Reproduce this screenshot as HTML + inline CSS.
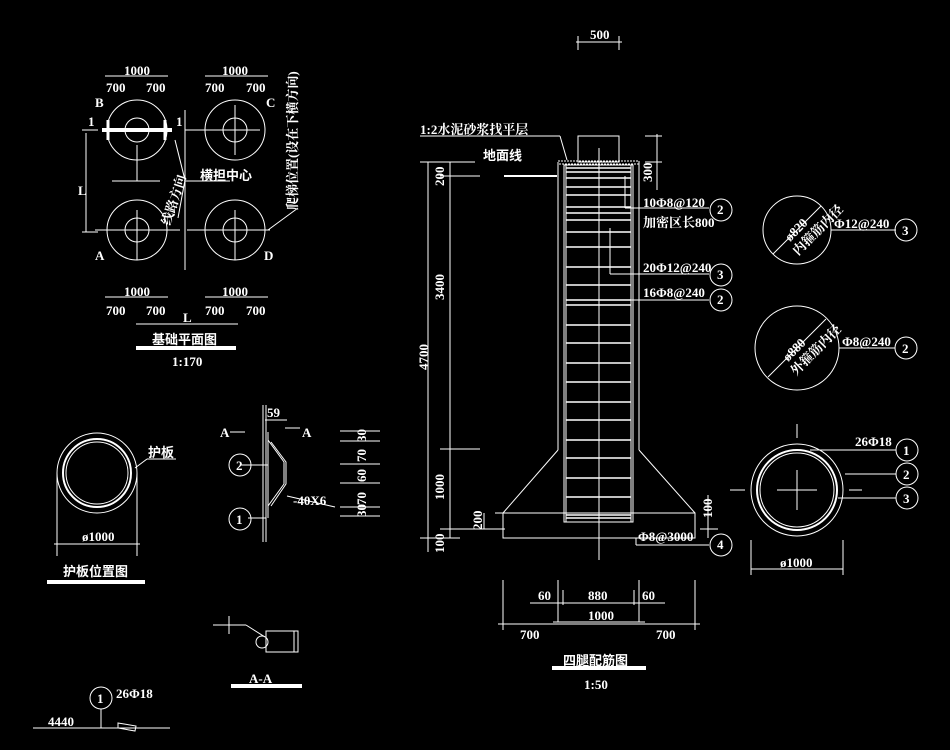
<!DOCTYPE html>
<html><head><meta charset="utf-8"><style>
html,body{margin:0;padding:0;background:#000;}
svg{display:block}
text{fill:#fff;font-family:"Liberation Serif","Noto Serif CJK SC","Noto Sans CJK SC",serif;font-size:13px;font-weight:bold}
.c{font-family:"Liberation Sans","Noto Sans CJK SC",sans-serif;font-weight:bold}
</style></head><body>
<svg width="950" height="750" viewBox="0 0 950 750" xmlns="http://www.w3.org/2000/svg">
<rect width="950" height="750" fill="#000"/>
<g stroke="#fff" fill="none" stroke-width="1">
<circle cx="137" cy="130" r="30"/><circle cx="137" cy="130" r="12"/>
<circle cx="235" cy="130" r="30"/><circle cx="235" cy="130" r="12"/>
<circle cx="137" cy="230" r="30"/><circle cx="137" cy="230" r="12"/>
<circle cx="235" cy="230" r="30"/><circle cx="235" cy="230" r="12"/>
<line x1="137" y1="145" x2="137" y2="181"/><line x1="112" y1="181" x2="160" y2="181"/>
<line x1="95" y1="230" x2="180" y2="230"/><line x1="137" y1="210" x2="137" y2="260"/>
<line x1="187" y1="230" x2="270" y2="230"/><line x1="235" y1="210" x2="235" y2="260"/>
<line x1="185" y1="130" x2="260" y2="130"/><line x1="235" y1="105" x2="235" y2="155"/>
<line x1="185" y1="181" x2="230" y2="181"/><line x1="185" y1="110" x2="185" y2="270"/>
<line x1="102" y1="130" x2="172" y2="130" stroke-width="4"/>
<line x1="108" y1="120" x2="108" y2="140" stroke-width="3"/><line x1="165" y1="120" x2="165" y2="140" stroke-width="3"/>
<line x1="86" y1="133" x2="86" y2="232"/><line x1="82" y1="130" x2="98" y2="130"/><line x1="82" y1="232" x2="98" y2="232"/>
<line x1="175" y1="140" x2="185" y2="180"/><line x1="185" y1="180" x2="178" y2="218"/>
<line x1="268" y1="230" x2="298" y2="208"/>
<line x1="105" y1="76" x2="168" y2="76"/><line x1="205" y1="76" x2="268" y2="76"/>
<line x1="105" y1="297" x2="168" y2="297"/><line x1="205" y1="297" x2="268" y2="297"/>
<line x1="136" y1="324" x2="238" y2="324"/>
<line x1="136" y1="348" x2="236" y2="348" stroke-width="4"/>
<circle cx="97" cy="473" r="40"/><circle cx="97" cy="473" r="34" stroke-width="2"/><circle cx="97" cy="473" r="31"/>
<line x1="57" y1="473" x2="57" y2="556"/><line x1="137" y1="473" x2="137" y2="556"/>
<line x1="54" y1="544" x2="140" y2="544"/>
<line x1="135" y1="468" x2="147" y2="459"/><line x1="147" y1="459" x2="176" y2="459"/>
<line x1="47" y1="582" x2="145" y2="582" stroke-width="4"/>
<line x1="263" y1="405" x2="263" y2="542"/><line x1="266" y1="405" x2="266" y2="542"/>
<line x1="268" y1="432" x2="268" y2="518"/>
<path d="M268,440 L284,462 L284,484 L268,506"/><path d="M271,442 L286,462 L286,484 L271,506"/>
<line x1="230" y1="432" x2="245" y2="432"/><line x1="285" y1="428" x2="300" y2="428"/>
<line x1="265" y1="420" x2="287" y2="420"/>
<line x1="240" y1="465" x2="268" y2="465"/><line x1="248" y1="518" x2="266" y2="518"/>
<line x1="287" y1="496" x2="335" y2="507"/>
<circle cx="240" cy="465" r="11"/><circle cx="240" cy="519" r="11"/>
<line x1="340" y1="431" x2="380" y2="431"/><line x1="340" y1="441" x2="380" y2="441"/><line x1="340" y1="464" x2="380" y2="464"/><line x1="340" y1="483" x2="380" y2="483"/><line x1="340" y1="507" x2="380" y2="507"/><line x1="340" y1="516" x2="380" y2="516"/>
<line x1="213" y1="625" x2="246" y2="625"/><line x1="229" y1="616" x2="229" y2="634"/>
<line x1="246" y1="625" x2="265" y2="637"/>
<circle cx="262" cy="642" r="6"/><rect x="266" y="631" width="32" height="21"/><line x1="294" y1="631" x2="294" y2="652"/>
<line x1="231" y1="686" x2="302" y2="686" stroke-width="4"/>
<circle cx="101" cy="698" r="11"/><line x1="101" y1="709" x2="101" y2="728"/>
<line x1="33" y1="728" x2="170" y2="728"/>
<path d="M118,723 L136,726 L135,731 L118,728Z"/>
<rect x="578" y="136" width="41" height="26"/>
<rect x="558" y="161" width="81" height="3" stroke-dasharray="2,1"/>
<line x1="558" y1="162" x2="558" y2="450"/><line x1="639" y1="162" x2="639" y2="450"/>
<rect x="564" y="165" width="69" height="357"/><rect x="566" y="165" width="65" height="357"/>
<line x1="558" y1="450" x2="503" y2="513"/><line x1="639" y1="450" x2="695" y2="513"/>
<rect x="503" y="513" width="192" height="25"/>
<line x1="495" y1="513" x2="503" y2="513"/>
<line x1="599" y1="148" x2="599" y2="560"/>
<g stroke-width="1.5">
<line x1="566" y1="168" x2="631" y2="168"/><line x1="566" y1="172" x2="631" y2="172"/><line x1="566" y1="178" x2="631" y2="178"/><line x1="566" y1="187" x2="631" y2="187"/><line x1="566" y1="195" x2="631" y2="195"/><line x1="566" y1="207" x2="631" y2="207"/><line x1="566" y1="213" x2="631" y2="213"/><line x1="566" y1="220" x2="631" y2="220"/><line x1="566" y1="232" x2="631" y2="232"/><line x1="566" y1="247" x2="631" y2="247"/><line x1="566" y1="267" x2="631" y2="267"/><line x1="566" y1="285" x2="631" y2="285"/><line x1="566" y1="300" x2="631" y2="300"/><line x1="566" y1="305" x2="631" y2="305"/><line x1="566" y1="325" x2="631" y2="325"/><line x1="566" y1="343" x2="631" y2="343"/><line x1="566" y1="363" x2="631" y2="363"/><line x1="566" y1="382" x2="631" y2="382"/><line x1="566" y1="402" x2="631" y2="402"/><line x1="566" y1="420" x2="631" y2="420"/><line x1="566" y1="440" x2="631" y2="440"/><line x1="566" y1="458" x2="631" y2="458"/><line x1="566" y1="478" x2="631" y2="478"/><line x1="566" y1="497" x2="631" y2="497"/><line x1="566" y1="515" x2="631" y2="515"/><line x1="566" y1="518" x2="631" y2="518"/>
</g>
<line x1="420" y1="136" x2="560" y2="136"/><line x1="560" y1="136" x2="567" y2="160"/>
<line x1="504" y1="176" x2="557" y2="176" stroke-width="2"/>
<line x1="625" y1="176" x2="625" y2="208"/><line x1="625" y1="208" x2="709" y2="208"/>
<line x1="610" y1="228" x2="610" y2="274"/><line x1="610" y1="274" x2="709" y2="274"/>
<line x1="630" y1="300" x2="709" y2="300"/>
<line x1="636" y1="538" x2="636" y2="545"/><line x1="636" y1="545" x2="709" y2="545"/>
<circle cx="721" cy="210" r="11"/><circle cx="721" cy="275" r="11"/><circle cx="721" cy="300" r="11"/><circle cx="721" cy="545" r="11"/>
<line x1="428" y1="162" x2="428" y2="552"/><line x1="450" y1="162" x2="450" y2="538"/>
<line x1="420" y1="162" x2="475" y2="162"/><line x1="440" y1="176" x2="480" y2="176"/>
<line x1="440" y1="449" x2="480" y2="449"/><line x1="440" y1="529" x2="505" y2="529"/><line x1="420" y1="538" x2="460" y2="538"/>
<line x1="484" y1="513" x2="484" y2="529"/>
<line x1="657" y1="134" x2="657" y2="190"/><line x1="645" y1="136" x2="662" y2="136"/><line x1="645" y1="162" x2="662" y2="162"/>
<line x1="708" y1="495" x2="708" y2="538"/><line x1="700" y1="529" x2="718" y2="529"/>
<line x1="576" y1="42" x2="622" y2="42"/><line x1="578" y1="36" x2="578" y2="50"/><line x1="619" y1="36" x2="619" y2="50"/>
<line x1="503" y1="580" x2="503" y2="630"/><line x1="558" y1="580" x2="558" y2="622"/><line x1="639" y1="580" x2="639" y2="622"/><line x1="695" y1="580" x2="695" y2="630"/><line x1="563" y1="590" x2="563" y2="605"/><line x1="634" y1="590" x2="634" y2="605"/>
<line x1="530" y1="603" x2="665" y2="603"/><line x1="553" y1="622" x2="645" y2="622"/><line x1="498" y1="624" x2="700" y2="624"/>
<line x1="552" y1="668" x2="646" y2="668" stroke-width="4"/>
<circle cx="797" cy="230" r="34"/><line x1="773" y1="254" x2="821" y2="206"/>
<line x1="831" y1="230" x2="896" y2="230"/><circle cx="906" cy="230" r="11"/>
<circle cx="797" cy="348" r="42"/><line x1="768" y1="377" x2="826" y2="319"/>
<line x1="839" y1="348" x2="895" y2="348"/><circle cx="906" cy="348" r="11"/>
<circle cx="797" cy="490" r="46"/><circle cx="797" cy="490" r="40" stroke-width="2"/><circle cx="797" cy="490" r="37"/>
<line x1="777" y1="490" x2="817" y2="490"/><line x1="797" y1="470" x2="797" y2="510"/>
<line x1="730" y1="490" x2="745" y2="490"/><line x1="849" y1="490" x2="862" y2="490"/>
<line x1="797" y1="424" x2="797" y2="438"/>
<line x1="810" y1="450" x2="896" y2="450"/><line x1="845" y1="474" x2="896" y2="474"/><line x1="838" y1="498" x2="896" y2="498"/>
<circle cx="907" cy="450" r="11"/><circle cx="907" cy="474" r="11"/><circle cx="907" cy="498" r="11"/>
<line x1="751" y1="540" x2="751" y2="575"/><line x1="843" y1="540" x2="843" y2="575"/><line x1="751" y1="569" x2="843" y2="569"/>
</g>
<text x="124" y="75">1000</text><text x="222" y="75">1000</text>
<text x="106" y="92">700</text><text x="146" y="92">700</text><text x="205" y="92">700</text><text x="246" y="92">700</text>
<text x="95" y="107">B</text><text x="266" y="107">C</text><text x="95" y="260">A</text><text x="264" y="260">D</text>
<text x="88" y="126">1</text><text x="176" y="126">1</text>
<text x="78" y="195">L</text>
<text class="c" x="200" y="180" font-size="13">横担中心</text>
<text x="124" y="296">1000</text><text x="222" y="296">1000</text>
<text x="106" y="315">700</text><text x="146" y="315">700</text><text x="205" y="315">700</text><text x="246" y="315">700</text>
<text x="183" y="322">L</text>
<text class="c" x="152" y="344">基础平面图</text>
<text x="172" y="366">1:170</text>
<text class="c" x="148" y="457">护板</text>
<text x="82" y="541">ø1000</text>
<text class="c" x="63" y="576" font-size="17">护板位置图</text>
<text x="267" y="417">59</text><text x="220" y="437">A</text><text x="302" y="437">A</text>
<text x="236" y="470" font-size="12">2</text><text x="236" y="524" font-size="12">1</text>
<text x="293" y="505">-40X6</text>
<text x="249" y="683">A-A</text>
<text x="97" y="703" font-size="12">1</text><text x="116" y="698">26Φ18</text><text x="48" y="726">4440</text>
<text x="420" y="134">1:2水泥砂浆找平层</text>
<text class="c" x="483" y="160">地面线</text>
<text x="643" y="207">10Φ8@120</text><text x="643" y="227">加密区长800</text>
<text x="643" y="272">20Φ12@240</text><text x="643" y="297">16Φ8@240</text>
<text x="638" y="541">Φ8@3000</text>
<text x="717" y="214" font-size="12">2</text><text x="717" y="279" font-size="12">3</text><text x="717" y="304" font-size="12">2</text><text x="717" y="549" font-size="12">4</text>
<text x="590" y="39">500</text>
<text x="538" y="600">60</text><text x="588" y="600">880</text><text x="642" y="600">60</text>
<text x="588" y="620">1000</text><text x="520" y="639">700</text><text x="656" y="639">700</text>
<text class="c" x="563" y="665">四腿配筋图</text>
<text x="584" y="689">1:50</text>
<text x="834" y="228">Φ12@240</text><text x="842" y="346">Φ8@240</text>
<text x="855" y="446">26Φ18</text>
<text x="902" y="235" font-size="12">3</text><text x="902" y="353" font-size="12">2</text>
<text x="903" y="455" font-size="12">1</text><text x="903" y="479" font-size="12">2</text><text x="903" y="503" font-size="12">3</text>
<text x="780" y="567">ø1000</text>
<g font-size="10">
<text transform="translate(444,300) rotate(-90)">3400</text>
<text transform="translate(428,370) rotate(-90)">4700</text>
<text transform="translate(444,500) rotate(-90)">1000</text>
<text transform="translate(444,186) rotate(-90)">200</text>
<text transform="translate(444,553) rotate(-90)">100</text>
<text transform="translate(482,530) rotate(-90)">200</text>
<text transform="translate(652,182) rotate(-90)">300</text>
<text transform="translate(712,518) rotate(-90)">100</text>
<text transform="translate(366,442) rotate(-90)">30</text>
<text transform="translate(366,462) rotate(-90)">70</text>
<text transform="translate(366,482) rotate(-90)">60</text>
<text transform="translate(366,505) rotate(-90)">70</text>
<text transform="translate(366,517) rotate(-90)">30</text>
<text transform="translate(790,242) rotate(-45)">ø820</text>
<text transform="translate(798,256) rotate(-45)">内箍筋内径</text>
<text transform="translate(788,362) rotate(-45)">ø880</text>
<text transform="translate(796,376) rotate(-45)">外箍筋内径</text>
<text transform="translate(170,226) rotate(-72)">线路方向</text>
<text transform="translate(297,210) rotate(-90)">爬梯位置(设在下横方向)</text>
</g>
</svg>
</body></html>
